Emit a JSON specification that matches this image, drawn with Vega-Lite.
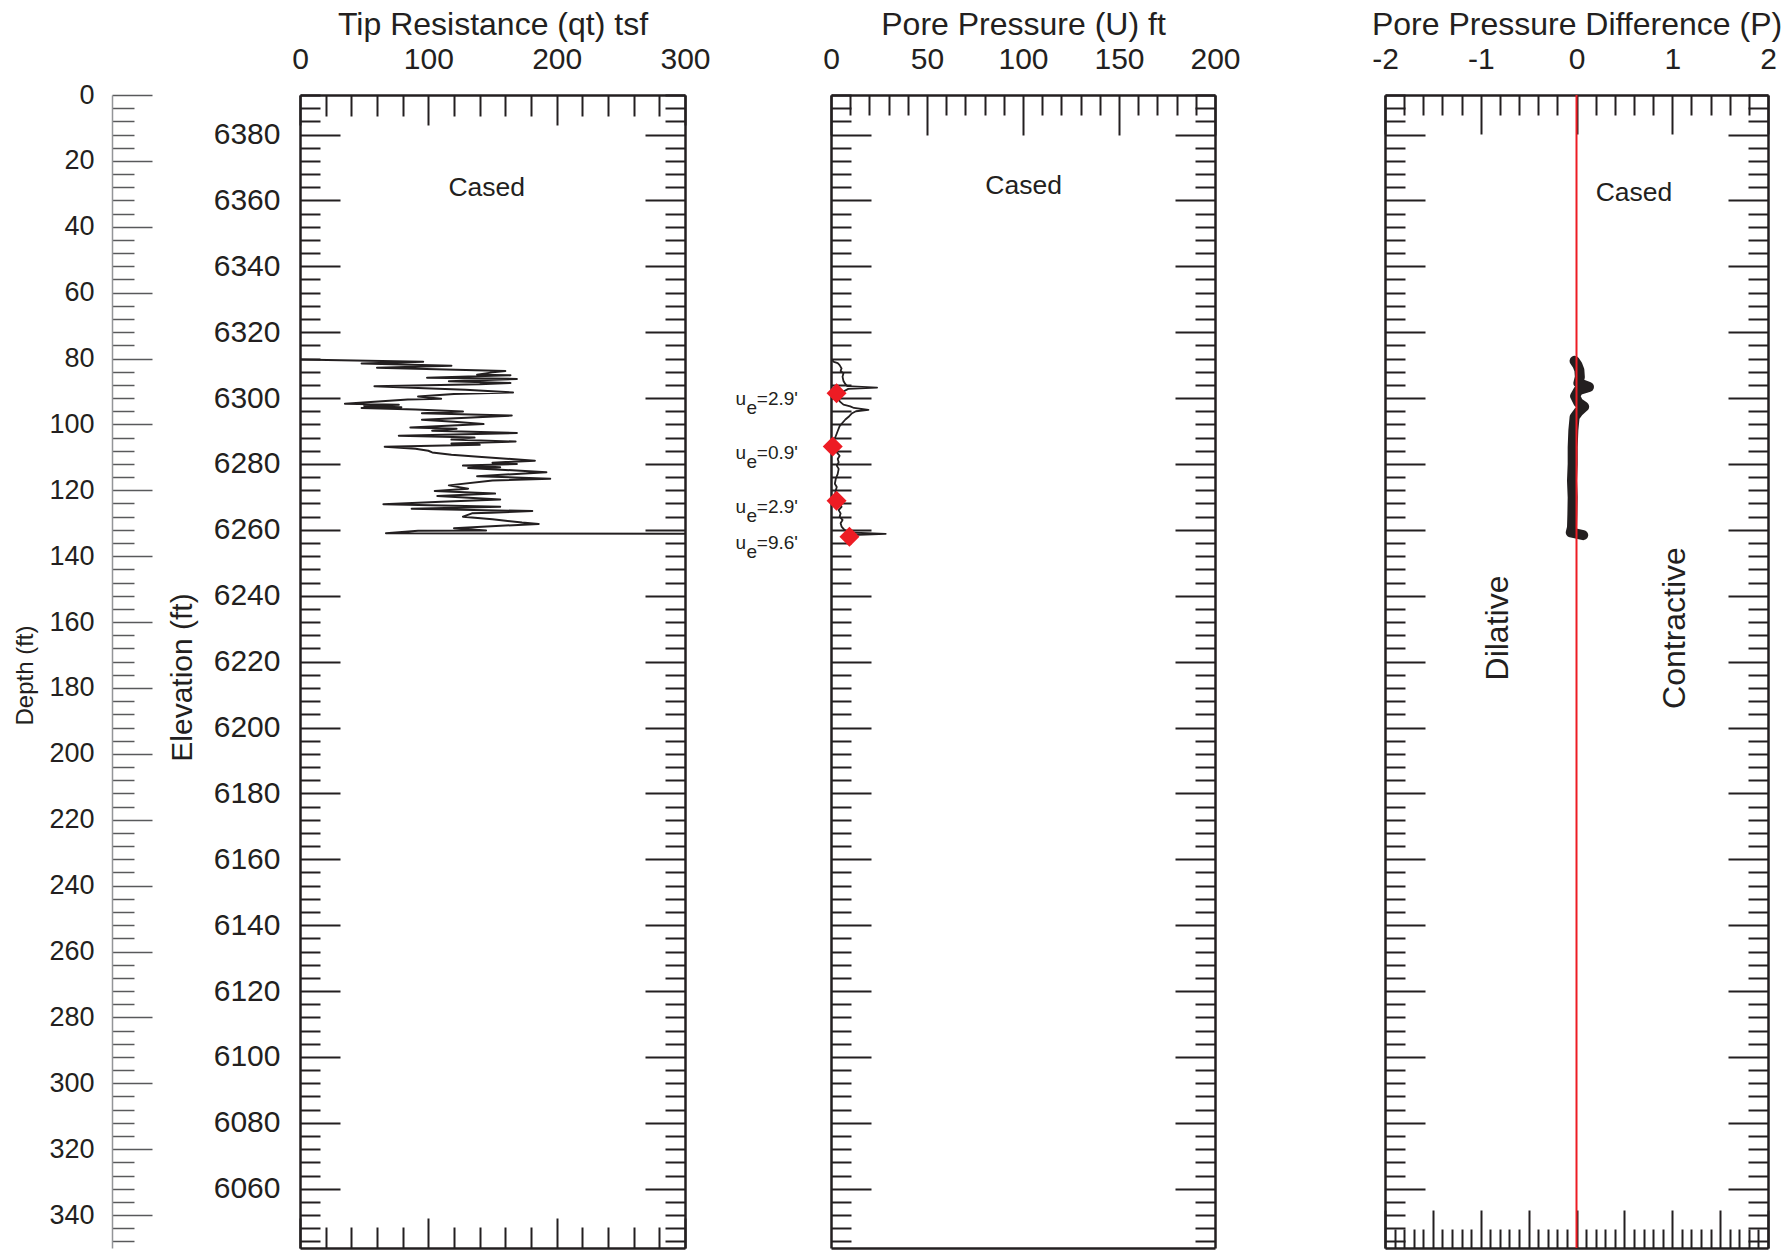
{
  "$schema": "https://vega.github.io/schema/vega-lite/v6.json",
  "width": 1787,
  "height": 1251,
  "autosize": {"type": "none"},
  "padding": 0,
  "background": "white",
  "config": {
    "font": "Liberation Sans",
    "view": {"stroke": null},
    "axis": {
      "grid": false,
      "labelFont": "Liberation Sans",
      "titleFont": "Liberation Sans",
      "labelColor": "#231f20",
      "titleColor": "#231f20",
      "titleFontWeight": "normal",
      "domainColor": "#231f20",
      "domainWidth": 2.5,
      "tickColor": "#231f20",
      "tickWidth": 2,
      "labelOverlap": false,
      "labelFlush": false,
      "labelBound": false
    }
  },
  "datasets": {
    "tip": [
      {"elev": 6311.7, "qt": 0}, {"elev": 6311.0, "qt": 96}, {"elev": 6310.5, "qt": 48}, {"elev": 6309.8, "qt": 118},
      {"elev": 6309.2, "qt": 60}, {"elev": 6308.2, "qt": 160}, {"elev": 6307.8, "qt": 150}, {"elev": 6307.1, "qt": 138},
      {"elev": 6306.9, "qt": 164}, {"elev": 6306.2, "qt": 99}, {"elev": 6305.8, "qt": 169}, {"elev": 6305.1, "qt": 116},
      {"elev": 6304.6, "qt": 164}, {"elev": 6304.2, "qt": 140}, {"elev": 6303.6, "qt": 58}, {"elev": 6303.0, "qt": 97},
      {"elev": 6302.5, "qt": 129}, {"elev": 6301.7, "qt": 166}, {"elev": 6301.2, "qt": 120}, {"elev": 6300.5, "qt": 92},
      {"elev": 6299.8, "qt": 110}, {"elev": 6299.6, "qt": 84}, {"elev": 6298.3, "qt": 35}, {"elev": 6298.0, "qt": 77},
      {"elev": 6297.6, "qt": 50}, {"elev": 6297.2, "qt": 79}, {"elev": 6297.0, "qt": 48}, {"elev": 6296.5, "qt": 90},
      {"elev": 6295.9, "qt": 127}, {"elev": 6295.4, "qt": 95}, {"elev": 6294.7, "qt": 165}, {"elev": 6294.0, "qt": 130},
      {"elev": 6293.4, "qt": 95}, {"elev": 6292.8, "qt": 120}, {"elev": 6292.1, "qt": 143}, {"elev": 6291.1, "qt": 86},
      {"elev": 6290.7, "qt": 122}, {"elev": 6290.1, "qt": 103}, {"elev": 6289.4, "qt": 169}, {"elev": 6288.6, "qt": 77},
      {"elev": 6288.0, "qt": 136}, {"elev": 6287.4, "qt": 118}, {"elev": 6286.8, "qt": 168}, {"elev": 6286.2, "qt": 118},
      {"elev": 6285.8, "qt": 140}, {"elev": 6285.2, "qt": 66}, {"elev": 6284.6, "qt": 90}, {"elev": 6284.0, "qt": 100},
      {"elev": 6283.5, "qt": 103}, {"elev": 6282.8, "qt": 118}, {"elev": 6282.2, "qt": 139}, {"elev": 6281.0, "qt": 183},
      {"elev": 6280.4, "qt": 150}, {"elev": 6280.0, "qt": 169}, {"elev": 6279.5, "qt": 127}, {"elev": 6279.0, "qt": 156},
      {"elev": 6278.8, "qt": 131}, {"elev": 6278.2, "qt": 160}, {"elev": 6277.5, "qt": 192}, {"elev": 6276.3, "qt": 138},
      {"elev": 6275.5, "qt": 195}, {"elev": 6275.0, "qt": 150}, {"elev": 6273.5, "qt": 116}, {"elev": 6272.5, "qt": 131},
      {"elev": 6271.8, "qt": 105}, {"elev": 6271.0, "qt": 152}, {"elev": 6270.3, "qt": 107}, {"elev": 6269.2, "qt": 156},
      {"elev": 6268.5, "qt": 110}, {"elev": 6267.8, "qt": 65}, {"elev": 6267.0, "qt": 156}, {"elev": 6266.4, "qt": 87},
      {"elev": 6265.7, "qt": 181}, {"elev": 6265.2, "qt": 149}, {"elev": 6265.0, "qt": 134}, {"elev": 6264.0, "qt": 127},
      {"elev": 6263.2, "qt": 150}, {"elev": 6262.2, "qt": 173}, {"elev": 6261.8, "qt": 186}, {"elev": 6260.5, "qt": 120},
      {"elev": 6259.8, "qt": 145}, {"elev": 6259.7, "qt": 92}, {"elev": 6259.0, "qt": 67}, {"elev": 6258.8, "qt": 300}
    ],
    "pore": [
      {"elev": 6311.6, "u": 0.5}, {"elev": 6311.0, "u": 1.5}, {"elev": 6310.6, "u": 3.5}, {"elev": 6310.0, "u": 4.5},
      {"elev": 6309.0, "u": 5.5}, {"elev": 6308.2, "u": 5.0}, {"elev": 6307.5, "u": 6.5}, {"elev": 6306.5, "u": 6.0},
      {"elev": 6305.2, "u": 6.5}, {"elev": 6304.2, "u": 7.5}, {"elev": 6303.6, "u": 8.5}, {"elev": 6303.2, "u": 24.0},
      {"elev": 6302.8, "u": 9.0}, {"elev": 6302.0, "u": 6.5}, {"elev": 6301.0, "u": 4.5}, {"elev": 6300.0, "u": 4.0},
      {"elev": 6299.0, "u": 4.5}, {"elev": 6298.0, "u": 6.5}, {"elev": 6297.5, "u": 10.0}, {"elev": 6297.0, "u": 12.0},
      {"elev": 6296.4, "u": 19.5}, {"elev": 6296.0, "u": 13.0}, {"elev": 6295.4, "u": 11.0}, {"elev": 6294.5, "u": 9.5},
      {"elev": 6293.5, "u": 7.5}, {"elev": 6292.5, "u": 6.0}, {"elev": 6291.5, "u": 4.5}, {"elev": 6290.0, "u": 3.5},
      {"elev": 6288.5, "u": 2.5}, {"elev": 6287.0, "u": 1.5}, {"elev": 6285.5, "u": 1.0}, {"elev": 6284.5, "u": 1.5},
      {"elev": 6283.5, "u": 3.0}, {"elev": 6282.5, "u": 4.5}, {"elev": 6281.5, "u": 3.5}, {"elev": 6280.5, "u": 4.0},
      {"elev": 6279.5, "u": 3.0}, {"elev": 6278.5, "u": 4.0}, {"elev": 6277.0, "u": 3.5}, {"elev": 6275.5, "u": 2.5},
      {"elev": 6274.0, "u": 2.0}, {"elev": 6273.0, "u": 3.0}, {"elev": 6272.0, "u": 2.5}, {"elev": 6270.5, "u": 2.0},
      {"elev": 6269.5, "u": 3.5}, {"elev": 6268.0, "u": 4.5}, {"elev": 6267.0, "u": 5.5}, {"elev": 6266.0, "u": 4.0},
      {"elev": 6265.0, "u": 5.0}, {"elev": 6264.0, "u": 4.5}, {"elev": 6263.0, "u": 6.0}, {"elev": 6262.0, "u": 5.0},
      {"elev": 6261.0, "u": 5.5}, {"elev": 6260.0, "u": 7.0}, {"elev": 6259.2, "u": 9.0}, {"elev": 6258.8, "u": 28.5},
      {"elev": 6258.4, "u": 11.0}, {"elev": 6258.0, "u": 7.0}
    ],
    "dissipation": [
      {"elev": 6301.5, "u": 2.9, "ue": "=2.9'"},
      {"elev": 6285.3, "u": 0.9, "ue": "=0.9'"},
      {"elev": 6268.8, "u": 2.9, "ue": "=2.9'"},
      {"elev": 6257.9, "u": 9.6, "ue": "=9.6'"}
    ],
    "diff": [
      {"elev": 6311.3, "p": -0.02}, {"elev": 6310.0, "p": 0.01}, {"elev": 6308.5, "p": 0.03}, {"elev": 6306.4, "p": 0.035},
      {"elev": 6304.6, "p": 0.02}, {"elev": 6303.4, "p": 0.13}, {"elev": 6302.4, "p": 0.02}, {"elev": 6300.6, "p": -0.015},
      {"elev": 6298.6, "p": 0.02}, {"elev": 6297.4, "p": 0.08}, {"elev": 6295.8, "p": 0.02}, {"elev": 6294.2, "p": -0.02},
      {"elev": 6290.2, "p": -0.033}, {"elev": 6285.1, "p": -0.04}, {"elev": 6280.0, "p": -0.04}, {"elev": 6274.9, "p": -0.047},
      {"elev": 6269.9, "p": -0.04}, {"elev": 6264.8, "p": -0.043}, {"elev": 6260.7, "p": -0.047}, {"elev": 6259.2, "p": -0.06},
      {"elev": 6258.4, "p": 0.07}
    ],
    "notes": [
      {"panel": "tip", "label": "Cased", "x": 145.5, "elev": 6363.8},
      {"panel": "pore", "label": "Cased", "x": 100.3, "elev": 6364.4},
      {"panel": "diff", "label": "Cased", "x": 0.6, "elev": 6362.4},
      {"panel": "diff", "label": "Dilative", "x": -0.82, "elev": 6230.2},
      {"panel": "diff", "label": "Contractive", "x": 1.03, "elev": 6230.2}
    ]
  },
  "layer": [
    {
      "description": "Depth scale down the left edge",
      "data": {"values": [{"depth": 0}, {"depth": 350}]},
      "mark": {"type": "point", "opacity": 0, "size": 1},
      "encoding": {
        "y": {
          "field": "depth", "type": "quantitative",
          "scale": {"domain": [0, 350], "range": [95, 1248], "nice": false, "zero": false},
          "axis": {
            "orient": "left", "offset": -112,
            "values": [0,4,8,12,16,20,24,28,32,36,40,44,48,52,56,60,64,68,72,76,80,84,88,92,96,100,104,108,112,116,120,124,128,132,136,140,144,148,152,156,160,164,168,172,176,180,184,188,192,196,200,204,208,212,216,220,224,228,232,236,240,244,248,252,256,260,264,268,272,276,280,284,288,292,296,300,304,308,312,316,320,324,328,332,336,340,344,348],
            "tickSize": {"condition": {"test": "datum.value % 20 === 0", "value": -40}, "value": -22},
            "labelExpr": "datum.value % 20 === 0 ? '' + datum.value : ''",
            "labelPadding": 58, "labelFontSize": 27,
            "domainColor": "#939598", "domainWidth": 1.5, "tickColor": "#58595b", "tickWidth": 1.5,
            "title": "Depth (ft)", "titleFontSize": 24, "titleAngle": 270,
            "titleX": -87, "titleY": 675, "titleBaseline": "middle", "titleAlign": "center"
          }
        }
      }
    },
    {
      "description": "Tip resistance panel",
      "resolve": {"axis": {"x": "independent", "y": "independent"}},
      "layer": [
        {
          "data": {"name": "tip"},
          "mark": {"type": "line", "color": "#231f20", "strokeWidth": 2, "strokeJoin": "round"},
          "encoding": {
            "x": {
              "field": "qt", "type": "quantitative",
              "scale": {"domain": [0, 300], "range": [300, 685], "nice": false, "zero": false},
              "axis": {
                "orient": "top", "offset": -95,
                "values": [0,20,40,60,80,100,120,140,160,180,200,220,240,260,280,300],
                "tickSize": {"condition": {"test": "datum.value % 100 === 0", "value": -30}, "value": -21},
                "labelExpr": "datum.value % 100 === 0 ? '' + datum.value : ''",
                "labelPadding": 51, "labelFontSize": 30,
                "title": "Tip Resistance (qt) tsf", "titleFontSize": 32,
                "titleY": -61, "titleBaseline": "alphabetic"
              }
            },
            "y": {
              "field": "elev", "type": "quantitative",
              "scale": {"domain": [6042, 6392], "range": [1248, 95], "nice": false, "zero": false},
              "axis": {
                "orient": "left", "offset": -300,
                "values": [6044,6048,6052,6056,6060,6064,6068,6072,6076,6080,6084,6088,6092,6096,6100,6104,6108,6112,6116,6120,6124,6128,6132,6136,6140,6144,6148,6152,6156,6160,6164,6168,6172,6176,6180,6184,6188,6192,6196,6200,6204,6208,6212,6216,6220,6224,6228,6232,6236,6240,6244,6248,6252,6256,6260,6264,6268,6272,6276,6280,6284,6288,6292,6296,6300,6304,6308,6312,6316,6320,6324,6328,6332,6336,6340,6344,6348,6352,6356,6360,6364,6368,6372,6376,6380,6384,6388,6392],
                "tickSize": {"condition": {"test": "datum.value % 20 === 0", "value": -40}, "value": -20},
                "labelExpr": "datum.value % 20 === 0 ? '' + datum.value : ''",
                "labelPadding": 60, "labelFontSize": 30,
                "title": "Elevation (ft)", "titleFontSize": 30, "titleAngle": 270,
                "titleX": -118, "titleY": 677, "titleBaseline": "middle", "titleAlign": "center"
              }
            },
            "order": {"field": "elev", "sort": "descending"}
          }
        },
        {
          "data": {"name": "notes"},
          "transform": [{"filter": "datum.panel === 'tip'"}],
          "mark": {"type": "text", "fontSize": 26.5, "color": "#231f20", "align": "center", "baseline": "middle"},
          "encoding": {
            "x": {
              "field": "x", "type": "quantitative",
              "scale": {"domain": [0, 300], "range": [300, 685], "nice": false, "zero": false},
              "axis": {
                "orient": "bottom", "offset": -3, "labels": false, "title": null,
                "values": [0,20,40,60,80,100,120,140,160,180,200,220,240,260,280,300],
                "tickSize": {"condition": {"test": "datum.value % 100 === 0", "value": -30}, "value": -21}
              }
            },
            "y": {
              "field": "elev", "type": "quantitative",
              "scale": {"domain": [6042, 6392], "range": [1248, 95], "nice": false, "zero": false},
              "axis": {
                "orient": "right", "offset": -1102, "labels": false, "title": null,
                "values": [6044,6048,6052,6056,6060,6064,6068,6072,6076,6080,6084,6088,6092,6096,6100,6104,6108,6112,6116,6120,6124,6128,6132,6136,6140,6144,6148,6152,6156,6160,6164,6168,6172,6176,6180,6184,6188,6192,6196,6200,6204,6208,6212,6216,6220,6224,6228,6232,6236,6240,6244,6248,6252,6256,6260,6264,6268,6272,6276,6280,6284,6288,6292,6296,6300,6304,6308,6312,6316,6320,6324,6328,6332,6336,6340,6344,6348,6352,6356,6360,6364,6368,6372,6376,6380,6384,6388,6392],
                "tickSize": {"condition": {"test": "datum.value % 20 === 0", "value": -40}, "value": -20}
              }
            },
            "text": {"field": "label"}
          }
        }
      ]
    },
    {
      "description": "Pore pressure panel",
      "resolve": {"axis": {"x": "independent", "y": "independent"}},
      "layer": [
        {
          "data": {"name": "pore"},
          "mark": {"type": "line", "color": "#231f20", "strokeWidth": 1.8, "strokeJoin": "round"},
          "encoding": {
            "x": {
              "field": "u", "type": "quantitative",
              "scale": {"domain": [0, 200], "range": [831, 1215], "nice": false, "zero": false},
              "axis": {
                "orient": "top", "offset": -95,
                "values": [0,10,20,30,40,50,60,70,80,90,100,110,120,130,140,150,160,170,180,190,200],
                "tickSize": {"condition": {"test": "datum.value % 50 === 0", "value": -40}, "value": -20},
                "labelExpr": "datum.value % 50 === 0 ? '' + datum.value : ''",
                "labelPadding": 61, "labelFontSize": 30,
                "title": "Pore Pressure (U) ft", "titleFontSize": 32,
                "titleY": -61, "titleBaseline": "alphabetic"
              }
            },
            "y": {
              "field": "elev", "type": "quantitative",
              "scale": {"domain": [6042, 6392], "range": [1248, 95], "nice": false, "zero": false},
              "axis": {
                "orient": "left", "offset": -831, "labels": false, "title": null,
                "values": [6044,6048,6052,6056,6060,6064,6068,6072,6076,6080,6084,6088,6092,6096,6100,6104,6108,6112,6116,6120,6124,6128,6132,6136,6140,6144,6148,6152,6156,6160,6164,6168,6172,6176,6180,6184,6188,6192,6196,6200,6204,6208,6212,6216,6220,6224,6228,6232,6236,6240,6244,6248,6252,6256,6260,6264,6268,6272,6276,6280,6284,6288,6292,6296,6300,6304,6308,6312,6316,6320,6324,6328,6332,6336,6340,6344,6348,6352,6356,6360,6364,6368,6372,6376,6380,6384,6388,6392],
                "tickSize": {"condition": {"test": "datum.value % 20 === 0", "value": -40}, "value": -20}
              }
            },
            "order": {"field": "elev", "sort": "descending"}
          }
        },
        {
          "data": {"name": "dissipation"},
          "mark": {"type": "point", "shape": "diamond", "filled": true, "color": "#ed1c24", "size": 400, "opacity": 1},
          "encoding": {
            "x": {
              "field": "u", "type": "quantitative",
              "scale": {"domain": [0, 200], "range": [831, 1215], "nice": false, "zero": false},
              "axis": {"orient": "bottom", "offset": -3, "labels": false, "ticks": false, "title": null}
            },
            "y": {
              "field": "elev", "type": "quantitative",
              "scale": {"domain": [6042, 6392], "range": [1248, 95], "nice": false, "zero": false},
              "axis": {
                "orient": "right", "offset": -572, "labels": false, "title": null,
                "values": [6044,6048,6052,6056,6060,6064,6068,6072,6076,6080,6084,6088,6092,6096,6100,6104,6108,6112,6116,6120,6124,6128,6132,6136,6140,6144,6148,6152,6156,6160,6164,6168,6172,6176,6180,6184,6188,6192,6196,6200,6204,6208,6212,6216,6220,6224,6228,6232,6236,6240,6244,6248,6252,6256,6260,6264,6268,6272,6276,6280,6284,6288,6292,6296,6300,6304,6308,6312,6316,6320,6324,6328,6332,6336,6340,6344,6348,6352,6356,6360,6364,6368,6372,6376,6380,6384,6388,6392],
                "tickSize": {"condition": {"test": "datum.value % 20 === 0", "value": -40}, "value": -20}
              }
            }
          }
        },
        {
          "data": {"name": "dissipation"},
          "mark": {"type": "text", "fontSize": 19, "color": "#231f20", "align": "right", "baseline": "middle", "dx": -33, "dy": 6},
          "encoding": {
            "x": {"datum": 0, "type": "quantitative", "scale": {"domain": [0, 200], "range": [831, 1215], "nice": false, "zero": false}, "axis": null},
            "y": {"field": "elev", "type": "quantitative", "scale": {"domain": [6042, 6392], "range": [1248, 95], "nice": false, "zero": false}, "axis": null},
            "text": {"field": "ue"}
          }
        },
        {
          "data": {"name": "dissipation"},
          "mark": {"type": "text", "text": "e", "fontSize": 19, "color": "#231f20", "align": "right", "baseline": "middle", "dx": -74, "dy": 15},
          "encoding": {
            "x": {"datum": 0, "type": "quantitative", "scale": {"domain": [0, 200], "range": [831, 1215], "nice": false, "zero": false}, "axis": null},
            "y": {"field": "elev", "type": "quantitative", "scale": {"domain": [6042, 6392], "range": [1248, 95], "nice": false, "zero": false}, "axis": null}
          }
        },
        {
          "data": {"name": "dissipation"},
          "mark": {"type": "text", "text": "u", "fontSize": 19, "color": "#231f20", "align": "right", "baseline": "middle", "dx": -85, "dy": 6},
          "encoding": {
            "x": {"datum": 0, "type": "quantitative", "scale": {"domain": [0, 200], "range": [831, 1215], "nice": false, "zero": false}, "axis": null},
            "y": {"field": "elev", "type": "quantitative", "scale": {"domain": [6042, 6392], "range": [1248, 95], "nice": false, "zero": false}, "axis": null}
          }
        },
        {
          "data": {"name": "notes"},
          "transform": [{"filter": "datum.panel === 'pore'"}],
          "mark": {"type": "text", "fontSize": 26.5, "color": "#231f20", "align": "center", "baseline": "middle"},
          "encoding": {
            "x": {"field": "x", "type": "quantitative", "scale": {"domain": [0, 200], "range": [831, 1215], "nice": false, "zero": false}, "axis": null},
            "y": {"field": "elev", "type": "quantitative", "scale": {"domain": [6042, 6392], "range": [1248, 95], "nice": false, "zero": false}, "axis": null},
            "text": {"field": "label"}
          }
        }
      ]
    },
    {
      "description": "Pore pressure difference panel",
      "resolve": {"axis": {"x": "independent", "y": "independent"}},
      "layer": [
        {
          "data": {"name": "diff"},
          "mark": {"type": "line", "color": "#231f20", "strokeWidth": 10, "strokeJoin": "round", "strokeCap": "round"},
          "encoding": {
            "x": {
              "field": "p", "type": "quantitative",
              "scale": {"domain": [-2, 2], "range": [1385, 1768], "nice": false, "zero": false},
              "axis": {
                "orient": "top", "offset": -95,
                "values": [-2,-1.8,-1.6,-1.4,-1.2,-1,-0.8,-0.6,-0.4,-0.2,0,0.2,0.4,0.6,0.8,1,1.2,1.4,1.6,1.8,2],
                "tickSize": {"condition": {"test": "abs(datum.value - round(datum.value)) < 0.001", "value": -39}, "value": -20},
                "labelExpr": "abs(datum.value - round(datum.value)) < 0.001 ? '' + round(datum.value) : ''",
                "labelPadding": 60, "labelFontSize": 30,
                "title": "Pore Pressure Difference (P)", "titleFontSize": 32,
                "titleY": -61, "titleBaseline": "alphabetic"
              }
            },
            "y": {
              "field": "elev", "type": "quantitative",
              "scale": {"domain": [6042, 6392], "range": [1248, 95], "nice": false, "zero": false},
              "axis": {
                "orient": "left", "offset": -1385, "labels": false, "title": null,
                "values": [6044,6048,6052,6056,6060,6064,6068,6072,6076,6080,6084,6088,6092,6096,6100,6104,6108,6112,6116,6120,6124,6128,6132,6136,6140,6144,6148,6152,6156,6160,6164,6168,6172,6176,6180,6184,6188,6192,6196,6200,6204,6208,6212,6216,6220,6224,6228,6232,6236,6240,6244,6248,6252,6256,6260,6264,6268,6272,6276,6280,6284,6288,6292,6296,6300,6304,6308,6312,6316,6320,6324,6328,6332,6336,6340,6344,6348,6352,6356,6360,6364,6368,6372,6376,6380,6384,6388,6392],
                "tickSize": {"condition": {"test": "datum.value % 20 === 0", "value": -40}, "value": -20}
              }
            },
            "order": {"field": "elev", "sort": "descending"}
          }
        },
        {
          "description": "Zero line separating dilative from contractive response",
          "data": {"values": [{"p": 0}]},
          "mark": {"type": "rule", "color": "#ed1c24", "strokeWidth": 2},
          "encoding": {
            "x": {"field": "p", "type": "quantitative", "scale": {"domain": [-2, 2], "range": [1385, 1768], "nice": false, "zero": false}, "axis": null},
            "y": {"datum": 6392, "type": "quantitative", "scale": {"domain": [6042, 6392], "range": [1248, 95], "nice": false, "zero": false}, "axis": null},
            "y2": {"datum": 6042}
          }
        },
        {
          "data": {"name": "notes"},
          "transform": [{"filter": "datum.panel === 'diff' && datum.label === 'Cased'"}],
          "mark": {"type": "text", "fontSize": 26.5, "color": "#231f20", "align": "center", "baseline": "middle"},
          "encoding": {
            "x": {
              "field": "x", "type": "quantitative",
              "scale": {"domain": [-2, 2], "range": [1385, 1768], "nice": false, "zero": false},
              "axis": {
                "orient": "bottom", "offset": -3, "labels": false, "title": null,
                "values": [-2,-1.9,-1.8,-1.7,-1.6,-1.5,-1.4,-1.3,-1.2,-1.1,-1,-0.9,-0.8,-0.7,-0.6,-0.5,-0.4,-0.3,-0.2,-0.1,0,0.1,0.2,0.3,0.4,0.5,0.6,0.7,0.8,0.9,1,1.1,1.2,1.3,1.4,1.5,1.6,1.7,1.8,1.9,2],
                "tickSize": {"condition": {"test": "abs(datum.value * 2 - round(datum.value * 2)) < 0.001", "value": -38}, "value": -19}
              }
            },
            "y": {
              "field": "elev", "type": "quantitative",
              "scale": {"domain": [6042, 6392], "range": [1248, 95], "nice": false, "zero": false},
              "axis": {
                "orient": "right", "offset": -19, "labels": false, "title": null,
                "values": [6044,6048,6052,6056,6060,6064,6068,6072,6076,6080,6084,6088,6092,6096,6100,6104,6108,6112,6116,6120,6124,6128,6132,6136,6140,6144,6148,6152,6156,6160,6164,6168,6172,6176,6180,6184,6188,6192,6196,6200,6204,6208,6212,6216,6220,6224,6228,6232,6236,6240,6244,6248,6252,6256,6260,6264,6268,6272,6276,6280,6284,6288,6292,6296,6300,6304,6308,6312,6316,6320,6324,6328,6332,6336,6340,6344,6348,6352,6356,6360,6364,6368,6372,6376,6380,6384,6388,6392],
                "tickSize": {"condition": {"test": "datum.value % 20 === 0", "value": -40}, "value": -20}
              }
            },
            "text": {"field": "label"}
          }
        },
        {
          "data": {"name": "notes"},
          "transform": [{"filter": "datum.panel === 'diff' && datum.label !== 'Cased'"}],
          "mark": {"type": "text", "fontSize": 32, "color": "#231f20", "align": "center", "baseline": "middle", "angle": 270},
          "encoding": {
            "x": {"field": "x", "type": "quantitative", "scale": {"domain": [-2, 2], "range": [1385, 1768], "nice": false, "zero": false}, "axis": null},
            "y": {"field": "elev", "type": "quantitative", "scale": {"domain": [6042, 6392], "range": [1248, 95], "nice": false, "zero": false}, "axis": null},
            "text": {"field": "label"}
          }
        }
      ]
    }
  ],
  "resolve": {
    "scale": {"x": "independent", "y": "independent"},
    "axis": {"x": "independent", "y": "independent"}
  }
}
